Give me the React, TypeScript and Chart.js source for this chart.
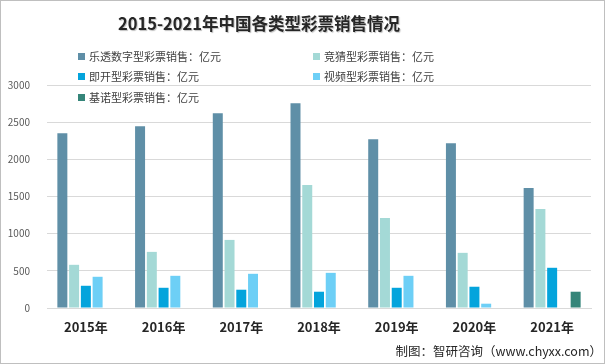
import React, { useEffect, useRef } from "react";
import { Chart, registerables } from "chart.js";

Chart.register(...registerables);

const categories = ["2015年", "2016年", "2017年", "2018年", "2019年", "2020年", "2021年"];
const seriesNames = [
  "乐透数字型彩票销售：亿元",
  "竞猜型彩票销售：亿元",
  "即开型彩票销售：亿元",
  "视频型彩票销售：亿元",
  "基诺型彩票销售：亿元",
];
const lotto = [2352, 2445, 2620, 2754, 2271, 2217, 1614];
const sports = [581, 755, 916, 1654, 1211, 742, 1332];
const instant = [299, 272, 246, 219, 272, 286, 541];
const video = [420, 433, 460, 473, 433, 58, null];
const keno = [null, null, null, null, null, null, 219];
const yTicks = [0, 500, 1000, 1500, 2000, 2500, 3000];

const colors = ["#5f8fa7", "#a4d9d6", "#04a4dc", "#6dcff6", "#358579"];
const FONT = "'Noto Sans CJK SC', 'Noto Sans', sans-serif";

export default function App() {
  const ref = useRef<HTMLCanvasElement | null>(null);
  useEffect(() => {
    const values = [lotto, sports, instant, video, keno];
    const chart = new Chart(ref.current as HTMLCanvasElement, {
      type: "bar",
      data: {
        labels: categories,
        datasets: values.map((v, i) => ({
          label: seriesNames[i],
          data: v as any,
          backgroundColor: colors[i],
          categoryPercentage: 0.756,
          barPercentage: 0.85,
        })),
      },
      options: {
        responsive: false,
        animation: false,
        layout: { padding: { top: 85, right: 14, left: 0, bottom: 0 } },
        plugins: { legend: { display: false }, title: { display: false }, tooltip: { enabled: false } },
        scales: {
          x: {
            grid: { display: false, drawTicks: false },
            border: { display: true, color: "#d9d9d9" },
            ticks: { padding: 11, color: "#262626", font: { family: FONT, size: 13, weight: "bold" } },
            afterFit: (s: any) => { s.height = 56; },
          },
          y: {
            min: 0,
            max: 3000,
            afterBuildTicks: (s: any) => { s.ticks = yTicks.map((v) => ({ value: v })); },
            grid: { color: "#d9d9d9", drawTicks: false },
            border: { display: false },
            ticks: {
              padding: 17,
              color: "#595959",
              font: { family: FONT, size: 10 },
              callback: (v: any) => String(v),
            },
            afterFit: (s: any) => { s.width = 47; },
          },
        },
      },
    });
    return () => chart.destroy();
  }, []);

  const legendPos = [
    [78, 56],
    [313, 56],
    [78, 76],
    [313, 76],
    [78, 97],
  ];

  return (
    <div style={{ position: "fixed", left: 0, top: 0, width: 605, height: 364, background: "#fff", fontFamily: FONT }}>
      <canvas ref={ref} width={605} height={364} style={{ position: "absolute", left: 0, top: 0 }} />
      <div style={{ position: "absolute", left: 118, top: 10, fontSize: 16.5, fontWeight: 700, color: "#262626", lineHeight: "26px", whiteSpace: "nowrap", textShadow: "1px 1px 1px rgba(0,0,0,0.25)" }}>
        2015-2021年中国各类型彩票销售情况
      </div>
      {seriesNames.map((n, i) => (
        <div key={n} style={{ position: "absolute", left: legendPos[i][0], top: legendPos[i][1] - 9, height: 18, display: "flex", alignItems: "center", fontSize: 11, color: "#404040", whiteSpace: "nowrap" }}>
          <span style={{ display: "inline-block", width: 7, height: 7, background: colors[i], marginRight: 4 }} />
          {n}
        </div>
      ))}
      <div style={{ position: "absolute", right: 3, top: 342, fontSize: 12.5, color: "#262626", whiteSpace: "nowrap", lineHeight: "18px" }}>
        制图：智研咨询（www.chyxx.com）
      </div>
      <div style={{ position: "absolute", left: 0, top: 0, width: 605, height: 364, boxSizing: "border-box", border: "1px solid #bfbfbf", pointerEvents: "none" }} />
    </div>
  );
}
